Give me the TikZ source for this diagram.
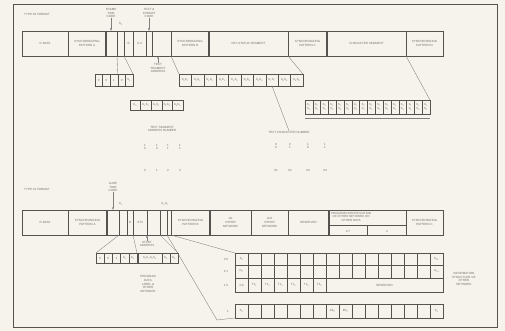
\documentclass[tikz,border=0pt]{standalone}
\usepackage{fontspec}
\setmainfont{Liberation Sans}
\usetikzlibrary{arrows.meta}
\definecolor{bg}{RGB}{246,243,236}
\definecolor{ink}{RGB}{85,83,80}
\definecolor{txt}{RGB}{115,112,106}
\newcommand\tinyf{\fontsize{3}{3.6}\selectfont}
\newcommand\bs[2]{#1\textsubscript{#2}}
\tikzset{
  cellbox/.style={draw=ink, line width=0.5pt, inner sep=0pt, outer sep=0pt, anchor=north west, align=center, font=\tinyf, text=txt},
  lbl/.style={inner sep=0pt, align=center, font=\tinyf, text=txt},
  conn/.style={draw=ink!75, line width=0.35pt},
  arr/.style={conn, -{Latex[length=2.5pt,width=2pt]}},
  thickdiv/.style={draw=ink, line width=1.3pt},
}
\newcommand\mycell[6]{\pgfmathsetmacro\cw{(#3)-(#2)}\pgfmathsetmacro\ch{(#5)-(#4)}\node[cellbox,minimum width=\cw pt,minimum height=\ch pt] (#1) at (#2,#4) {#6};}
\begin{document}
\begin{tikzpicture}[x=1pt,y=-1pt]
\useasboundingbox (0,0) rectangle (505,331);
\fill[bg] (0,0) rectangle (505,331);
\draw[ink, line width=0.8pt] (13,4) rectangle (497,327);

% ---------- TYPE 00 ----------
\node[lbl, anchor=west] (f0) at (24,14) {TYPE 00 FORMAT};
\mycell{t1}{22}{68}{31}{56}{R-DATA}
\mycell{t2}{68}{106}{31}{56}{SYNCHRONIZING\\PATTERN A}
\mycell{t3}{106}{117}{31}{56}{}
\mycell{t4}{117}{124}{31}{56}{}
\mycell{t5}{124}{133}{31}{56}{B}
\mycell{t6}{133}{146}{31}{56}{0-4}
\mycell{t7}{146}{152}{31}{56}{}
\mycell{t8}{152}{171}{31}{56}{}
\mycell{t9}{171}{209}{31}{56}{SYNCHRONIZING\\PATTERN B}
\mycell{t10}{209}{288}{31}{56}{KEY-STATUS SEGMENT}
\mycell{t11}{288}{327}{31}{56}{SYNCHRONIZING\\PATTERN C}
\mycell{t12}{327}{406}{31}{56}{CHARACTER SEGMENT}
\mycell{t13}{406}{443}{31}{56}{SYNCHRONIZING\\PATTERN D}
\draw[thickdiv] (t3.north west) -- (t3.south west);
\draw[thickdiv] (t9.north east) -- (t9.south east);
\draw[thickdiv] (t12.north west) -- (t12.south west);

\node[lbl] (ftc) at (111,13) {FRAME\\TIME\\CODE};
\draw[arr] (ftc.south) -- (ftc.south |- t3.north);
\node[lbl] (b0a) at (121,24) {\bs{b}{0}};
\node[lbl] (tfc) at (149,13) {TEXT \&\\FORMAT\\CODE};
\draw[arr] (tfc.south) -- (tfc.south |- t7.north);
\node[lbl] (tsa) at (158,68) {TEXT\\SEGMENT\\ADDRESS};
\draw[arr] (tsa.north) -- (tsa.north |- t8.south);

% first-level boxes
\foreach \i/\s in {0/0,1/0,2/1,3/0,4/\bs{b}{0}} {\mycell{sl\i}{95+7.6*\i}{95+7.6*\i+7.6}{74}{86}{\s}}
\foreach \i in {0,...,9} {\mycell{sr\i}{179+12.4*\i}{179+12.4*\i+12.4}{74}{86}{\bs{b}{\i}\bs{b}{\i}}}
\draw[conn] (t4.south west) -- (sl3.north west);
\draw[conn] (t5.south west) -- (sl4.north east);
\draw[conn] (t8.south east) -- (sr0.north west);
\draw[conn] (t11.south west) -- (sr9.north east);

% second-level boxes
\foreach \i/\s in {0/\bs{b}{4},1/\bs{b}{1}\bs{b}{2},2/\bs{b}{2}\bs{b}{3},3/\bs{b}{3}\bs{b}{4},4/\bs{b}{4}\bs{b}{5}} {\mycell{ml\i}{130+10.6*\i}{130+10.6*\i+10.6}{100}{110}{\s}}
\foreach \i in {0,...,15} {\mycell{mr\i}{305+7.8125*\i}{305+7.8125*\i+7.8125}{100}{114}{\bs{b}{1}\\\bs{b}{2}}}
\coordinate (ul1) at (305,118);
\coordinate (ul2) at (430,118);
\draw[conn] (ul1) -- (ul2);
\draw[conn] (t13.south west) -- (mr15.north east);

\node[lbl] (tsan) at (162,129) {TEXT SEGMENT\\ADDRESS NUMBER};
\foreach \x/\a/\b in {145/1/0,157/1/0,168/1/1,180/1/1} {\node[lbl] at (\x,147) {\a\\\b};}
\foreach \x/\a in {145/0,157/1,168/2,180/3} {\node[lbl] at (\x,170) {\a};}

\node[lbl] (tcn) at (289,132) {TEXT CHARACTER NUMBER};
\draw[conn] (sr7.south) -- (tcn.north);
\foreach \x/\a/\b in {276/0/0,290/0/1,308/1/0,325/1/1} {\node[lbl] at (\x,146) {\a\\\b};}
\foreach \x/\a in {276/01,290/02,308/03,325/04} {\node[lbl] at (\x,170) {\a};}

% ---------- TYPE 01 ----------
\node[lbl, anchor=west] (f1) at (24,189) {TYPE 01 FORMAT};
\mycell{b1}{22}{68}{210}{235}{R-DATA}
\mycell{b2}{68}{107}{210}{235}{SYNCHRONIZING\\PATTERN A}
\mycell{b3}{107}{119}{210}{235}{}
\mycell{b4}{119}{127}{210}{235}{}
\mycell{b5}{127}{133}{210}{235}{B}
\mycell{b6}{133}{147}{210}{235}{ST4}
\mycell{b7}{147}{160}{210}{235}{}
\mycell{b8}{160}{167}{210}{235}{}
\mycell{b9}{167}{171}{210}{235}{}
\mycell{b10}{171}{210}{210}{235}{SYNCHRONIZING\\PATTERN B}
\mycell{b11}{210}{251}{210}{235}{1st\\OTHER\\NETWORK}
\mycell{b12}{251}{288}{210}{235}{2nd\\OTHER\\NETWORK}
\mycell{b13}{288}{329}{210}{235}{RESERVED}
\mycell{b14}{329}{406}{210}{235}{}
\mycell{b15}{406}{443}{210}{235}{SYNCHRONIZING\\PATTERN C}
\draw[thickdiv] (b3.north west) -- (b3.south west);
\draw[thickdiv] (b10.north east) -- (b10.south east);
\draw[thickdiv] (b14.north west) -- (b14.south west);
\node[lbl, anchor=north west] (b14t) at (331,212) {PROGRAM IDENTIFICATION\\OF OTHER NETWORK OR\\OTHER DATA};
\coordinate (h1) at (329,225);
\coordinate (h2) at (406,225);
\coordinate (h3) at (367,225);
\coordinate (h4) at (367,235);
\draw[conn, draw=ink] (h1) -- (h2);
\draw[conn, draw=ink] (h3) -- (h4);
\node[lbl] (p17) at (348,231) {1/7};
\node[lbl] (p2) at (387,231) {2};

\node[lbl] (jtc) at (113,187) {JUMP\\TIME\\CODE};
\draw[arr] (jtc.south) -- (jtc.south |- b3.north);
\node[lbl] (b0b) at (121,204) {\bs{b}{0}};
\node[lbl] (b12l) at (165,204) {\bs{b}{1}\bs{b}{2}};
\node[lbl] (sa) at (147,244) {START\\ADDRESS};
\draw[arr] (sa.north) -- (sa.north |- b7.south);

\foreach \i/\s in {0/0,1/0,2/1,3/\bs{b}{1},4/\bs{b}{2}} {\mycell{bl\i}{96+8.2*\i}{96+8.2*\i+8.2}{253}{263}{\s}}
\mycell{br0}{138}{162}{253}{263}{\bs{b}{1}\bs{b}{2}\bs{b}{3}\bs{b}{4}}
\mycell{br1}{162}{170}{253}{263}{\bs{b}{5}}
\mycell{br2}{170}{178}{253}{263}{\bs{b}{6}}
\node[lbl] (pdl) at (148,284) {PROGRAM\\DATA\\LABEL \&\\OTHER\\NETWORK};
\draw[conn] (b4.south west) -- (bl0.north west);
\draw[conn] (b6.south west) -- (bl4.north east);
\draw[conn] (b7.south east) -- (br2.north east);

% grid
\foreach \i in {0,...,15} {\mycell{ga\i}{235+13*\i}{248+13*\i}{253}{265}{}}
\foreach \i in {0,...,15} {\mycell{gb\i}{235+13*\i}{248+13*\i}{265}{278}{}}
\node[lbl] at (ga0) {\bs{b}{0}};
\node[lbl] at (ga15) {\bs{b}{15}};
\node[lbl] at (gb0) {\bs{m}{0}};
\node[lbl] at (gb15) {\bs{m}{15}};
\foreach \i/\s in {0/C0,1/\bs{T1}{1},2/\bs{T1}{2},3/\bs{T1}{3},4/\bs{T1}{4},5/\bs{T1}{5},6/\bs{T1}{6}} {\mycell{gc\i}{235+13*\i}{248+13*\i}{278}{292}{\s}}
\mycell{gcr}{326}{443}{278}{292}{RESERVED}
\node[lbl] (r00) at (226,259) {0 0};
\node[lbl] (r01) at (226,271) {0 1};
\node[lbl] (r10) at (226,285) {1 0};

\foreach \i in {0,...,15} {\mycell{gd\i}{235+13*\i}{248+13*\i}{304}{318}{}}
\node[lbl] at (gd0) {\bs{b}{1}};
\node[lbl] at (gd7) {\bs{Ab}{2}};
\node[lbl] at (gd8) {\bs{Bb}{1}};
\node[lbl] at (gd15) {\bs{b}{4}};
\node[lbl] (r1) at (228,311) {1};
\coordinate (bend) at (217,320);
\draw[conn] (b9.south west) -- (bend) -- (gd0.south west);
\draw[conn] (b9.south east) -- (ga0.north west);

\node[lbl, anchor=west] (isn) at (452,279) {INFORMATION\\STRUCTURE OF\\OTHER\\NETWORK};
\end{tikzpicture}
\end{document}
